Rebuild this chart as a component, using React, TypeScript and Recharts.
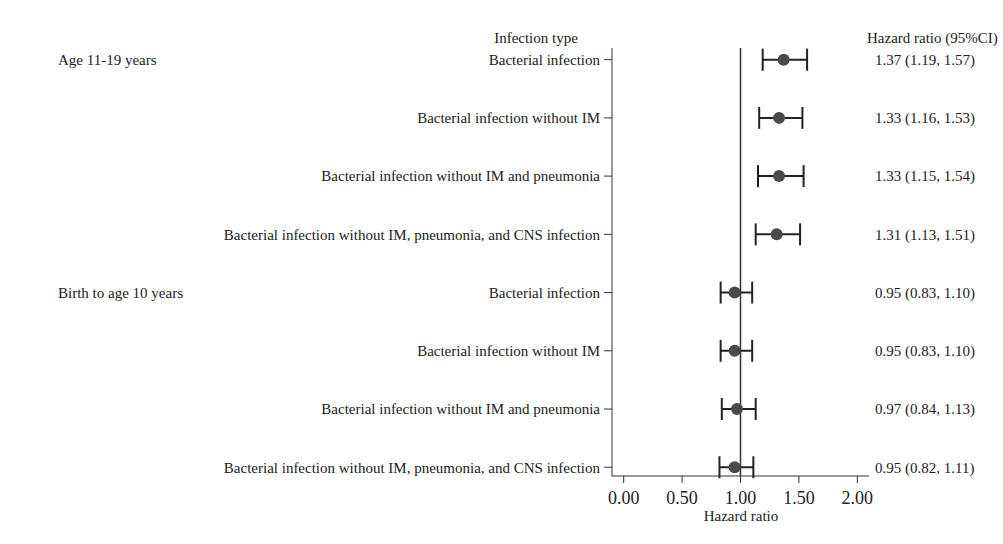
import React from 'react'
import { ErrorBar, ReferenceLine, Scatter, ScatterChart, XAxis, YAxis } from 'recharts'

const labels = [
    'Bacterial infection',
    'Bacterial infection without IM',
    'Bacterial infection without IM and pneumonia',
    'Bacterial infection without IM, pneumonia, and CNS infection',
    'Bacterial infection',
    'Bacterial infection without IM',
    'Bacterial infection without IM and pneumonia',
    'Bacterial infection without IM, pneumonia, and CNS infection',
]
const groups = ['Age 11-19 years', '', '', '', 'Birth to age 10 years', '', '', '']
const hazard = [1.37, 1.33, 1.33, 1.31, 0.95, 0.95, 0.97, 0.95]
const lower = [1.19, 1.16, 1.15, 1.13, 0.83, 0.83, 0.84, 0.82]
const upper = [1.57, 1.53, 1.54, 1.51, 1.10, 1.10, 1.13, 1.11]
const xTicks = [0, 0.5, 1, 1.5, 2]

const data = labels.map((label, i) => ({
    row: i,
    label,
    hr: hazard[i],
    err: [hazard[i] - lower[i], upper[i] - hazard[i]],
}))
const rows = data.map(d => d.row)

const font = '"Liberation Serif", "Times New Roman", serif'
const ink = '#222'

const ciText = (i: number): string =>
    `${hazard[i].toFixed(2)} (${lower[i].toFixed(2)}, ${upper[i].toFixed(2)})`

const LeftTick = (props: any) => {
    const { x, y, payload } = props
    const i = payload.value
    return (
        <g>
            <text x={x} y={y} dy="0.355em" textAnchor="end" fontFamily={font} fontSize={15} fill={ink}>
                {labels[i]}
            </text>
            {groups[i] && (
                <text x={58} y={y} dy="0.355em" textAnchor="start" fontFamily={font} fontSize={15} fill={ink}>
                    {groups[i]}
                </text>
            )}
        </g>
    )
}

const RightTick = (props: any) => {
    const { x, y, payload } = props
    return (
        <text x={x} y={y} dy="0.355em" textAnchor="start" fontFamily={font} fontSize={15} fill={ink}>
            {ciText(payload.value)}
        </text>
    )
}

const Dot = (props: any) => <circle cx={props.cx} cy={props.cy} r={6} fill="#4a4a4a" />

const App = () => {
    return (
        <div style={{ position: 'absolute', left: 0, top: 0, width: 1003, height: 544, background: '#fff' }}>
            <ScatterChart width={1003} height={544} margin={{ top: 48, right: 0, bottom: 0, left: 0 }}>
                <XAxis
                    type="number"
                    dataKey="hr"
                    domain={[-0.1, 2.1]}
                    ticks={xTicks}
                    tickFormatter={v => Number(v).toFixed(2)}
                    height={68}
                    tickSize={7}
                    tickMargin={8}
                    stroke="#333"
                    tick={{ fontFamily: font, fontSize: 18, fill: ink }}
                />
                <YAxis
                    yAxisId="left"
                    type="number"
                    dataKey="row"
                    domain={[-0.2, 7.15]}
                    reversed
                    ticks={rows}
                    interval={0}
                    width={612}
                    tickSize={8}
                    tickMargin={4}
                    stroke="#333"
                    tick={<LeftTick />}
                />
                <YAxis
                    yAxisId="right"
                    orientation="right"
                    type="number"
                    dataKey="row"
                    domain={[-0.2, 7.15]}
                    reversed
                    ticks={rows}
                    interval={0}
                    width={134}
                    tickLine={false}
                    axisLine={false}
                    tickSize={0}
                    tickMargin={6}
                    tick={<RightTick />}
                />
                <ReferenceLine yAxisId="left" x={1} stroke="#333" strokeWidth={1.5} />
                <Scatter yAxisId="right" data={data} shape={() => <g />} isAnimationActive={false} />
                <Scatter yAxisId="left" data={data} shape={<Dot />} isAnimationActive={false}>
                    <ErrorBar dataKey="err" direction="x" width={11} stroke="#222" strokeWidth={2} />
                </Scatter>
            </ScatterChart>
            <svg width={1003} height={544} style={{ position: 'absolute', left: 0, top: 0, pointerEvents: 'none' }}>
                <text x={536} y={43} textAnchor="middle" fontFamily={font} fontSize={15} fill={ink}>
                    Infection type
                </text>
                <text x={867} y={43} textAnchor="start" fontFamily={font} fontSize={15} fill={ink}>
                    Hazard ratio (95%CI)
                </text>
                <text x={741} y={521} textAnchor="middle" fontFamily={font} fontSize={15} fill={ink}>
                    Hazard ratio
                </text>
            </svg>
        </div>
    )
}

export default App
